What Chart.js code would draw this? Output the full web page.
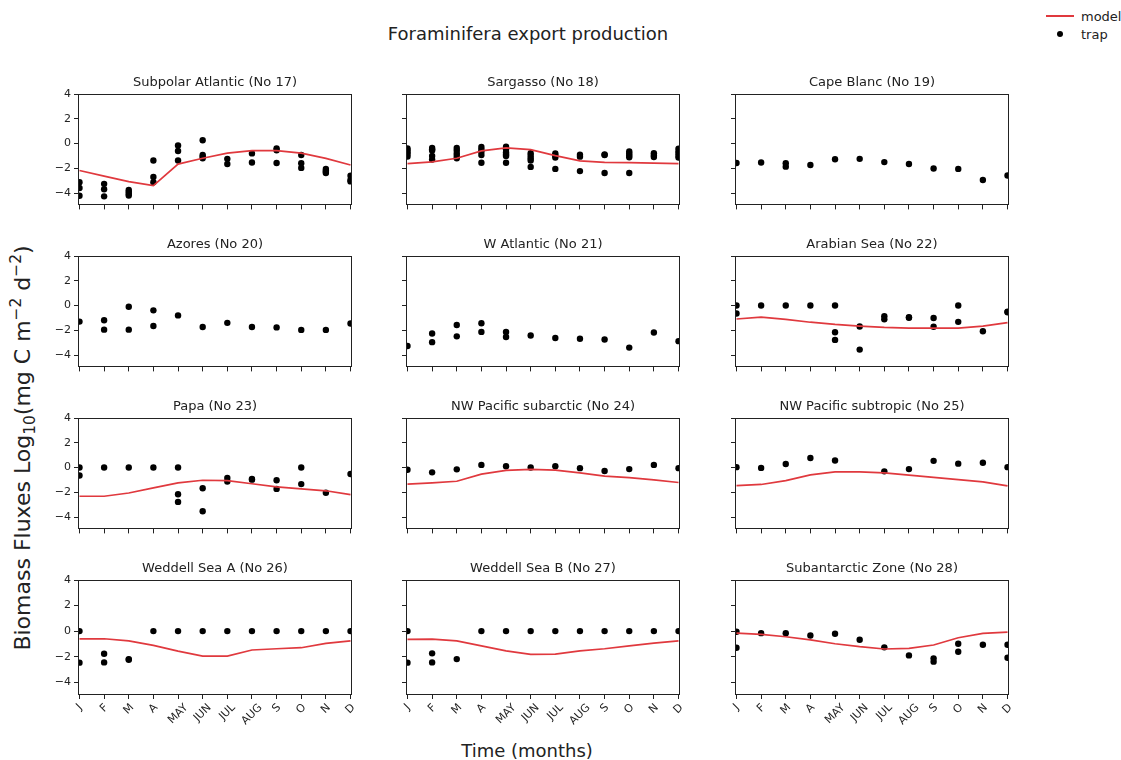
<!DOCTYPE html>
<html>
<head>
<meta charset="utf-8">
<script src="https://cdn.jsdelivr.net/npm/chart.js@4.4.0/dist/chart.umd.min.js"></script>
<style>
  body { margin: 0; background: #fff; font-family: 'DejaVu Sans', sans-serif; color: #222; }
  #fig { position: relative; width: 1121px; height: 760px; overflow: hidden; }
  .panel { position: absolute; }
  .txt { position: absolute; white-space: nowrap; }
  sub, sup { font-size: 70%; line-height: 0; }
</style>
</head>
<body>
<div id="fig">
  <div class="txt" style="left:528px; top:33px; transform:translate(-50%,-50%); font-size:18px;">Foraminifera export production</div>
  <div class="txt" style="left:527px; top:750px; transform:translate(-50%,-50%); font-size:18px;">Time (months)</div>
  <div class="txt" style="left:22px; top:448px; transform:translate(-50%,-50%) rotate(-90deg); font-size:22px;">Biomass Fluxes Log<sub>10</sub>(mg C m<sup>−2</sup> d<sup>−2</sup>)</div>
  <div class="txt" style="left:1046px; top:15px; width:28px; height:2px; background:#e0393e;"></div>
  <div class="txt" style="left:1081px; top:16px; transform:translateY(-50%); font-size:13px;">model</div>
  <div class="txt" style="left:1057px; top:31px; width:6px; height:6px; border-radius:50%; background:#000;"></div>
  <div class="txt" style="left:1081px; top:34px; transform:translateY(-50%); font-size:13px;">trap</div>
</div>
<script>
const months = ['J', 'F', 'M', 'A', 'MAY', 'JUN', 'JUL', 'AUG', 'S', 'O', 'N', 'D'];
const yTicks = [-4, -2, 0, 2, 4];

const titles = [
  'Subpolar Atlantic (No 17)', 'Sargasso (No 18)', 'Cape Blanc (No 19)',
  'Azores (No 20)', 'W Atlantic (No 21)', 'Arabian Sea (No 22)',
  'Papa (No 23)', 'NW Pacific subarctic (No 24)', 'NW Pacific subtropic (No 25)',
  'Weddell Sea A (No 26)', 'Weddell Sea B (No 27)', 'Subantarctic Zone (No 28)'
];

// model curves (one value per month), null = no model for that station
const modelSubpolar = [-2.18, -2.63, -3.08, -3.4, -1.66, -1.19, -0.78, -0.57, -0.57, -0.78, -1.2, -1.74];
const modelSargasso = [-1.63, -1.48, -1.19, -0.6, -0.36, -0.49, -0.98, -1.4, -1.53, -1.55, -1.58, -1.63];
const modelArabian = [-1.09, -0.94, -1.12, -1.35, -1.53, -1.66, -1.77, -1.82, -1.82, -1.82, -1.66, -1.38];
const modelPapa = [-2.32, -2.32, -2.06, -1.65, -1.24, -1.03, -1.06, -1.31, -1.57, -1.73, -1.88, -2.19];
const modelNWPSubarctic = [-1.34, -1.24, -1.11, -0.54, -0.23, -0.15, -0.21, -0.44, -0.7, -0.82, -1.0, -1.21];
const modelNWPSubtropic = [-1.47, -1.37, -1.06, -0.59, -0.36, -0.36, -0.44, -0.62, -0.8, -0.98, -1.16, -1.49];
const modelWeddellA = [-0.6, -0.6, -0.76, -1.12, -1.56, -1.95, -1.95, -1.48, -1.38, -1.3, -0.96, -0.76];
const modelWeddellB = [-0.65, -0.62, -0.76, -1.15, -1.54, -1.82, -1.8, -1.54, -1.38, -1.15, -0.94, -0.76];
const modelSubantarctic = [-0.16, -0.26, -0.44, -0.68, -0.99, -1.22, -1.4, -1.35, -1.09, -0.52, -0.18, -0.08];

// trap observations, one list per month
const trapSubpolar = [[-3.13, -3.6, -4.22], [-3.26, -3.7, -4.27], [-3.75, -3.9, -4.05, -4.2], [-1.37, -2.7, -3.13],
  [-0.16, -0.6, -1.37], [0.26, -0.92, -1.05, -1.2], [-1.24, -1.66], [-0.8, -1.53],
  [-0.39, -0.54, -1.58], [-0.93, -1.6, -1.97], [-2.05, -2.2, -2.3, -2.38], [-2.6, -2.95, -3.06]];
const trapSargasso = [[-0.4, -0.55, -0.7, -0.85, -1.05], [-0.36, -0.47, -0.57, -1.0, -1.3], [-0.36, -0.57, -0.8, -1.0, -1.2],
  [-0.28, -0.5, -0.67, -0.93, -1.55], [-0.26, -0.47, -0.73, -0.88, -1.0, -1.55], [-0.78, -0.98, -1.19, -1.37, -1.89],
  [-0.8, -0.96, -1.14, -2.05], [-0.9, -1.06, -2.23], [-0.88, -0.93, -2.38],
  [-0.65, -0.8, -0.96, -1.11, -2.38], [-0.78, -0.96, -1.09], [-0.41, -0.62, -0.8, -0.98, -1.14]];
const trapCapeBlanc = [[-1.58], [-1.53], [-1.6, -1.87], [-1.74], [-1.27], [-1.24], [-1.5], [-1.66], [-2.02], [-2.05], [-2.95], [-2.59]];
const trapAzores = [[-1.3], [-1.19, -1.95], [-0.1, -1.95], [-0.39, -1.66], [-0.8], [-1.74], [-1.4], [-1.74], [-1.77], [-1.97], [-1.97], [-1.45]];
const trapWAtlantic = [[-3.27], [-2.26, -2.96], [-1.58, -2.49], [-1.43, -2.13], [-2.13, -2.55], [-2.42], [-2.62], [-2.68], [-2.75], [-3.4], [-2.18], [-2.88]];
const trapArabian = [[0, -0.65], [0], [0], [0], [0, -2.16, -2.78], [-1.69, -3.56], [-0.86, -1.12], [-0.94, -0.99], [-1.01, -1.71], [0, -1.32], [-2.08], [-0.49, -0.55]];
const trapPapa = [[0, -0.64], [0], [0], [0], [0, -2.16, -2.78], [-1.68, -3.53], [-0.85, -1.13], [-0.93, -0.98], [-1.03, -1.73], [0, -1.34], [-2.04], [-0.52]];
const trapNWPSubarctic = [[-0.18], [-0.39], [-0.15], [0.21], [0.1], [0], [0.1], [-0.05], [-0.28], [-0.13], [0.21], [-0.05]];
const trapNWPSubtropic = [[0.03], [-0.03], [0.28], [0.77], [0.57], [], [-0.31], [-0.13], [0.54], [0.31], [0.39], [0.03]];
const trapWeddellA = [[0, -2.47], [-1.77, -2.45], [-2.19, -2.24], [0], [0], [0], [0], [0], [0], [0], [0], [0]];
const trapWeddellB = [[0, -2.47], [-1.74, -2.45], [-2.19], [0], [0], [0], [0], [0], [0], [0], [0], [0]];
const trapSubantarctic = [[-0.05, -1.3], [-0.16], [-0.16], [-0.34], [-0.21], [-0.68], [-1.27], [-1.9], [-2.13, -2.39], [-0.99, -1.61], [-1.07], [-1.07, -2.08]];

const models = [modelSubpolar, modelSargasso, null, null, null, modelArabian,
  modelPapa, modelNWPSubarctic, modelNWPSubtropic, modelWeddellA, modelWeddellB, modelSubantarctic];
const traps = [trapSubpolar, trapSargasso, trapCapeBlanc, trapAzores, trapWAtlantic, trapArabian,
  trapPapa, trapNWPSubarctic, trapNWPSubtropic, trapWeddellA, trapWeddellB, trapSubantarctic];

// layout of the 4x3 grid (plot area boxes)
const colLeft = [78, 406, 735];
const rowTop = [94, 256, 418, 580];
const plotW = 274, plotH = 115;
const axW = 40, titleH = 20, padR = 8;

const red = '#e0393e';
const ink = '#222';
const font = "'DejaVu Sans', sans-serif";

// box + rotated month labels like matplotlib
const framePlugin = {
  id: 'frame',
  afterDraw(chart, args, opts) {
    const { ctx, chartArea: a } = chart;
    ctx.save();
    ctx.strokeStyle = ink;
    ctx.lineWidth = 1;
    const l = Math.round(a.left) + 0.5, t = Math.round(a.top) + 0.5;
    const r = Math.round(a.right) - 0.5, b = Math.round(a.bottom) - 0.5;
    ctx.strokeRect(l, t, r - l, b - t);
    if (opts.labels) {
      const xs = chart.scales.x;
      ctx.fillStyle = ink;
      ctx.font = '11px ' + font;
      ctx.textAlign = 'center';
      ctx.textBaseline = 'middle';
      months.forEach((m, i) => {
        const w = ctx.measureText(m).width;
        const cy = a.bottom + 7 + (w + 11) * Math.SQRT1_2 / 2;
        ctx.save();
        ctx.translate(xs.getPixelForValue(i), cy);
        ctx.rotate(-Math.PI / 4);
        ctx.fillText(m, 0, 0);
        ctx.restore();
      });
    }
    ctx.restore();
  }
};

const fig = document.getElementById('fig');

titles.forEach((title, idx) => {
  const row = Math.floor(idx / 3), col = idx % 3;
  const bottomRow = row === 3;
  const xH = bottomRow ? 40 : 6;
  const w = axW + plotW + padR, h = titleH + plotH + xH;

  const div = document.createElement('div');
  div.className = 'panel';
  div.style.left = (colLeft[col] - axW) + 'px';
  div.style.top = (rowTop[row] - titleH) + 'px';
  const canvas = document.createElement('canvas');
  canvas.width = w;
  canvas.height = h;
  div.appendChild(canvas);
  fig.appendChild(div);

  const datasets = [];
  const model = models[idx];
  if (model) {
    datasets.push({
      type: 'line',
      label: 'model',
      data: model.map((v, i) => ({ x: i, y: v })),
      borderColor: red,
      borderWidth: 1.7,
      pointRadius: 0,
      tension: 0
    });
  }
  const pts = [];
  traps[idx].forEach((vals, i) => vals.forEach(v => pts.push({ x: i, y: v })));
  datasets.push({
    type: 'scatter',
    label: 'trap',
    data: pts,
    backgroundColor: '#000',
    borderWidth: 0,
    pointRadius: 3.2
  });

  new Chart(canvas.getContext('2d'), {
    type: 'scatter',
    data: { datasets },
    options: {
      responsive: false,
      animation: false,
      events: [],
      layout: { padding: { left: 0, right: padR, top: 0, bottom: 0 } },
      plugins: {
        legend: { display: false },
        tooltip: { enabled: false },
        title: {
          display: true,
          text: title,
          fullSize: false,
          color: ink,
          font: { family: font, size: 13, weight: 'normal' },
          padding: { top: 1.2, bottom: 3.2 }
        },
        frame: { labels: bottomRow }
      },
      scales: {
        x: {
          type: 'linear',
          min: -0.06,
          max: 11.06,
          afterBuildTicks: s => { s.ticks = months.map((m, i) => ({ value: i })); },
          afterFit: s => { s.height = xH; },
          ticks: { autoSkip: false, maxRotation: 0, callback: () => '' },
          grid: { drawOnChartArea: false, drawTicks: true, tickLength: 4, tickColor: ink },
          border: { display: false }
        },
        y: {
          type: 'linear',
          min: -5,
          max: 4,
          afterBuildTicks: s => { s.ticks = yTicks.map(v => ({ value: v })); },
          afterFit: s => { s.width = axW; },
          ticks: {
            autoSkip: false,
            padding: 3,
            color: ink,
            font: { family: font, size: 11 },
            callback: v => col === 0 ? String(v).replace('-', '\u2212') : ''
          },
          grid: { drawOnChartArea: false, drawTicks: true, tickLength: 4, tickColor: ink },
          border: { display: false }
        }
      }
    },
    plugins: [framePlugin]
  });
});
</script>
</body>
</html>
